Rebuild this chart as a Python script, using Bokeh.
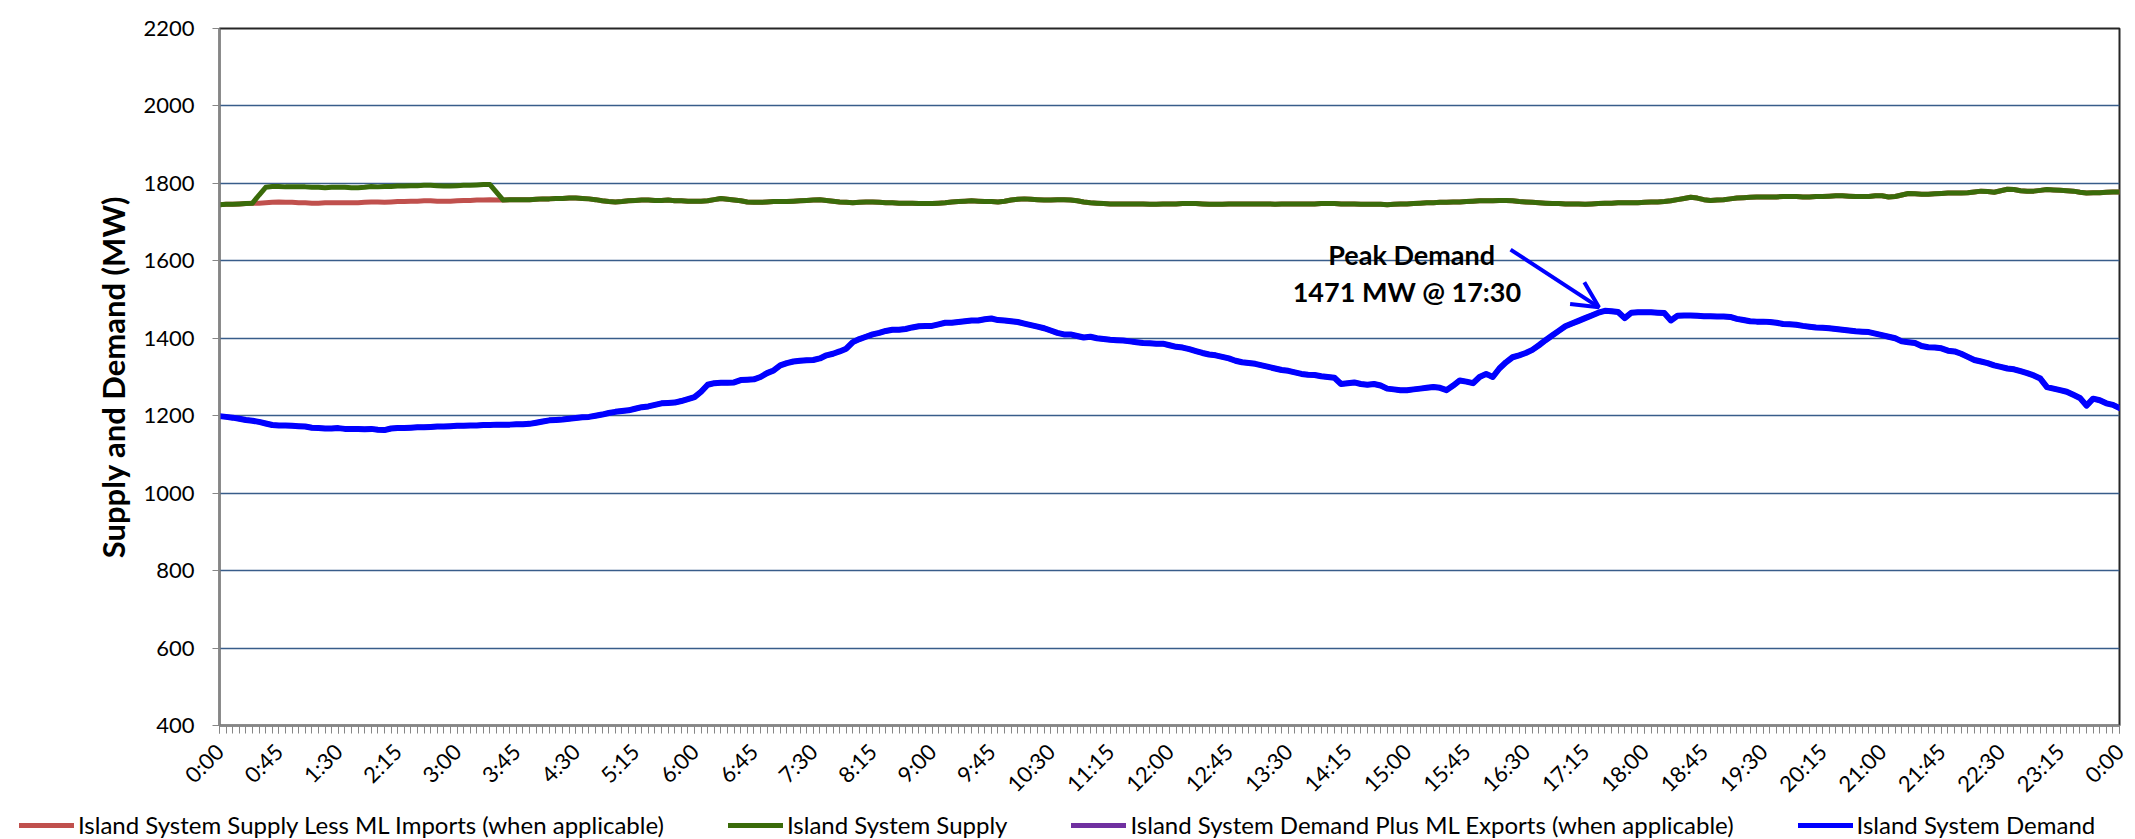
import math
from bokeh.plotting import figure
from bokeh.layouts import column
from bokeh.models import (Range1d, FixedTicker, Legend, LegendItem, Label, Arrow, OpenHead)
from bokeh.embed import file_html
from bokeh.resources import INLINE

# ---------------- data (5-minute intervals, 0:00 .. 24:00) ----------------
tick_labels = ["0:00", "0:45", "1:30", "2:15", "3:00", "3:45", "4:30", "5:15", "6:00",
               "6:45", "7:30", "8:15", "9:00", "9:45", "10:30", "11:15", "12:00", "12:45",
               "13:30", "14:15", "15:00", "15:45", "16:30", "17:15", "18:00", "18:45",
               "19:30", "20:15", "21:00", "21:45", "22:30", "23:15", "0:00"]

island_supply = [
    1745, 1746, 1746, 1747, 1748, 1749, 1770, 1790, 1792, 1792, 1791, 1791,
    1791, 1791, 1790, 1790, 1789, 1790, 1790, 1790, 1789, 1789, 1790, 1792,
    1791, 1792, 1792, 1793, 1793, 1794, 1794, 1795, 1795, 1794, 1793, 1793,
    1794, 1795, 1795, 1796, 1797, 1797, 1777, 1757, 1758, 1758, 1758, 1758,
    1759, 1760, 1760, 1761, 1761, 1762, 1762, 1761, 1760, 1758, 1755, 1753,
    1752, 1753, 1755, 1756, 1757, 1757, 1756, 1756, 1757, 1755, 1755, 1754,
    1754, 1754, 1755, 1758, 1761, 1759, 1757, 1755, 1752, 1751, 1751, 1752,
    1753, 1753, 1753, 1754, 1755, 1756, 1757, 1758, 1756, 1754, 1752, 1751,
    1750, 1751, 1752, 1752, 1751, 1750, 1750, 1749, 1749, 1749, 1748, 1748,
    1748, 1749, 1750, 1752, 1753, 1754, 1755, 1754, 1753, 1753, 1752, 1754,
    1757, 1759, 1760, 1759, 1758, 1757, 1757, 1758, 1758, 1757, 1755, 1752,
    1750, 1749, 1748, 1747, 1747, 1747, 1747, 1747, 1747, 1746, 1746, 1747,
    1747, 1747, 1748, 1748, 1748, 1747, 1746, 1746, 1746, 1747, 1747, 1747,
    1747, 1747, 1747, 1747, 1746, 1747, 1747, 1747, 1747, 1747, 1747, 1748,
    1748, 1748, 1747, 1747, 1747, 1746, 1746, 1746, 1746, 1745, 1746, 1747,
    1747, 1748, 1749, 1750, 1750, 1751, 1751, 1752, 1752, 1753, 1754, 1755,
    1755, 1755, 1756, 1756, 1755, 1753, 1752, 1751, 1750, 1749, 1748, 1748,
    1747, 1747, 1747, 1746, 1747, 1748, 1749, 1749, 1750, 1750, 1750, 1750,
    1751, 1752, 1752, 1753, 1755, 1758, 1761, 1764, 1762, 1758, 1756, 1757,
    1758, 1760, 1762, 1763, 1764, 1765, 1765, 1765, 1765, 1766, 1766, 1766,
    1765, 1765, 1766, 1766, 1767, 1768, 1768, 1767, 1766, 1766, 1766, 1768,
    1768, 1765, 1766, 1770, 1774, 1773, 1772, 1772, 1773, 1774, 1775, 1775,
    1775, 1776, 1778, 1780, 1779, 1777, 1781, 1785, 1784, 1781, 1780, 1780,
    1782, 1784, 1783, 1782, 1781, 1780, 1777, 1775, 1776, 1776, 1777, 1778,
    1778,
]

ml_imports = [0] * 6 + [
    21, 40, 41, 40, 40, 40, 41, 41, 41, 41, 39, 40, 40, 40, 39, 39, 39, 40,
    39, 41, 40, 40, 40, 40, 40, 40, 40, 40, 39, 39, 39, 39, 39, 39, 40, 39, 20,
] + [0] * 246

ml_exports = [0] * 289

island_demand = [
    1199, 1197, 1195, 1192, 1189, 1187, 1184, 1180, 1176, 1175, 1175, 1174,
    1173, 1172, 1169, 1168, 1167, 1167, 1168, 1166, 1166, 1166, 1165, 1166,
    1164, 1163, 1167, 1168, 1168, 1169, 1170, 1170, 1171, 1172, 1172, 1173,
    1174, 1174, 1175, 1175, 1176, 1176, 1177, 1177, 1177, 1178, 1178, 1179,
    1182, 1185, 1188, 1189, 1190, 1192, 1194, 1196, 1197, 1200, 1203, 1207,
    1210, 1212, 1214, 1218, 1222, 1224, 1228, 1232, 1233, 1234, 1238, 1243,
    1248, 1262, 1280, 1284, 1285, 1285, 1286, 1292, 1293, 1294, 1300, 1310,
    1317, 1330, 1336, 1340, 1342, 1343, 1344, 1348, 1356, 1360, 1366, 1373,
    1390, 1398, 1404, 1410, 1414, 1419, 1422, 1422, 1424, 1428, 1431, 1432,
    1432, 1436, 1440, 1440, 1442, 1444, 1446, 1446, 1449, 1451, 1447, 1446,
    1444, 1442, 1438, 1434, 1430, 1426, 1420, 1414, 1410, 1410, 1406, 1402,
    1404, 1400, 1398, 1396, 1395, 1394, 1392, 1390, 1388, 1387, 1386, 1386,
    1382, 1378, 1376, 1372, 1367, 1362, 1358, 1356, 1352, 1348, 1342, 1338,
    1336, 1334, 1330, 1326, 1322, 1318, 1316, 1312, 1308, 1306, 1305, 1302,
    1300, 1298, 1282, 1284, 1286, 1282, 1280, 1282, 1278, 1270, 1268, 1266,
    1266, 1268, 1270, 1272, 1274, 1272, 1266, 1278, 1291, 1288, 1284, 1300,
    1308, 1300, 1322, 1338, 1351, 1356, 1362, 1370, 1382, 1395, 1407, 1419,
    1431, 1438, 1445, 1452, 1459, 1466, 1471, 1470, 1468, 1452, 1466, 1467,
    1467, 1467, 1466, 1465, 1446, 1458, 1459, 1459, 1458, 1457, 1457, 1456,
    1456, 1455, 1450, 1447, 1444, 1443, 1443, 1442, 1440, 1437, 1436, 1435,
    1432, 1430, 1428, 1427, 1426, 1424, 1422, 1420, 1418, 1417, 1416, 1412,
    1408, 1404, 1400, 1392, 1390, 1388, 1380, 1377, 1376, 1374, 1368, 1366,
    1360, 1352, 1344, 1340, 1336, 1330, 1326, 1322, 1320, 1315, 1310, 1304,
    1296, 1274, 1270, 1266, 1262, 1254, 1246, 1226, 1244, 1240, 1232, 1228,
    1220,
]

series_names = ["Island System Supply Less ML Imports (when applicable)",
                "Island System Supply",
                "Island System Demand Plus ML Exports (when applicable)",
                "Island System Demand"]
series_colors = ["#C0504D", "#3A6B0A", "#7030A0", "#0000FF"]
peak_text = ["Peak Demand", "1471 MW @ 17:30"]

assert len(island_supply) == 289, len(island_supply)
assert len(ml_imports) == 289, len(ml_imports)
assert len(island_demand) == 289, len(island_demand)

supply_less_imports = [s - m for s, m in zip(island_supply, ml_imports)]
demand_plus_exports = [d + e for d, e in zip(island_demand, ml_exports)]
xs = list(range(len(island_demand)))
n_last = len(xs) - 1
peak_i = max(range(len(island_demand)), key=lambda i: island_demand[i])
peak_v = island_demand[peak_i]

FONT = "Lato"
W = 2135
MAIN_H = 810
LEG_H = 29

p = figure(width=W, height=MAIN_H, output_backend="svg", toolbar_location=None,
           title=None, x_range=Range1d(0, n_last), y_range=Range1d(400, 2200),
           min_border_left=219, min_border_right=16, min_border_top=28,
           min_border_bottom=MAIN_H - 725, background_fill_color="white",
           border_fill_color="white")
p.frame_align = False

p.outline_line_color = "#262626"
p.outline_line_width = 2

# grid
p.xgrid.grid_line_color = None
p.ygrid.grid_line_color = "#385D8A"
p.ygrid.grid_line_width = 1.5
p.ygrid.ticker = FixedTicker(ticks=list(range(400, 2201, 200)))

# y axis
ya = p.yaxis[0]
ya.ticker = FixedTicker(ticks=list(range(400, 2201, 200)))
ya.axis_line_color = "#868686"
ya.axis_line_width = 2
ya.major_tick_in = 0
ya.major_tick_out = 7
ya.major_tick_line_color = "#868686"
ya.minor_tick_line_color = None
ya.major_label_text_font = FONT
ya.major_label_text_font_size = "22px"
ya.major_label_text_color = "black"
ya.major_label_standoff = 18
ya.axis_label = "Supply and Demand (MW)"
ya.axis_label_text_font = FONT
ya.axis_label_text_font_style = "bold"
ya.axis_label_text_font_size = "31px"
ya.axis_label_text_color = "black"
ya.axis_label_standoff = 8

# x axis
xa = p.xaxis[0]
xa.ticker = FixedTicker(ticks=list(range(0, n_last + 1, 9)), minor_ticks=xs)
xa.major_label_overrides = {i * 9: lab for i, lab in enumerate(tick_labels)}
xa.major_label_orientation = math.pi / 4
xa.axis_line_color = "#868686"
xa.axis_line_width = 2
xa.major_tick_in = 0
xa.major_tick_out = 8
xa.minor_tick_in = 0
xa.minor_tick_out = 8
xa.major_tick_line_color = "#868686"
xa.minor_tick_line_color = "#868686"
xa.major_label_text_font = FONT
xa.major_label_text_font_size = "22px"
xa.major_label_text_color = "black"
xa.major_label_standoff = 14

# series
widths = [5, 5, 5, 6]
for ys, col, w in zip([supply_less_imports, island_supply, demand_plus_exports, island_demand],
                      series_colors, widths):
    p.line(xs, ys, line_color=col, line_width=w, line_join="round", line_cap="round")

# annotation
p.add_layout(Label(x=peak_i - 29.3, y=peak_v + 145, text=peak_text[0], text_font=FONT,
                   text_font_style="bold", text_font_size="27px", text_color="black",
                   text_align="center", text_baseline="alphabetic"))
p.add_layout(Label(x=peak_i - 30, y=peak_v + 50, text=peak_text[1], text_font=FONT,
                   text_font_style="bold", text_font_size="27px", text_color="black",
                   text_align="center", text_baseline="alphabetic"))
p.add_layout(Arrow(end=OpenHead(size=26, line_color="#0000FF", line_width=4),
                   x_start=peak_i - 14.3, y_start=peak_v + 158,
                   x_end=peak_i - 0.9, y_end=peak_v + 9,
                   line_color="#0000FF", line_width=4))

# ---------------- legend strip below the chart ----------------
lg = figure(width=W, height=LEG_H, output_backend="svg", toolbar_location=None,
            title=None, x_range=Range1d(0, 10), y_range=Range1d(0, 10),
            x_axis_type=None, y_axis_type=None, min_border=0,
            background_fill_color="white", border_fill_color="white")
lg.frame_align = False
lg.outline_line_color = None

items = []
for name, col in zip(series_names, series_colors):
    # proxy renderers (kept outside the visible range) that only feed the legend
    r = lg.line([-20, -10], [-20, -20], line_color=col, line_width=5, line_cap="round")
    items.append(LegendItem(label=name, renderers=[r]))

legend = Legend(items=items, location=(19, 0), orientation="horizontal",
                glyph_width=55, glyph_height=20, label_standoff=4, spacing=64,
                padding=0, margin=0, border_line_color=None, background_fill_alpha=0,
                label_text_font=FONT, label_text_font_size="24px",
                label_text_color="black")
lg.add_layout(legend, "center")

layout = column(p, lg, spacing=0)
open("out.html", "w").write(file_html(layout, INLINE))
